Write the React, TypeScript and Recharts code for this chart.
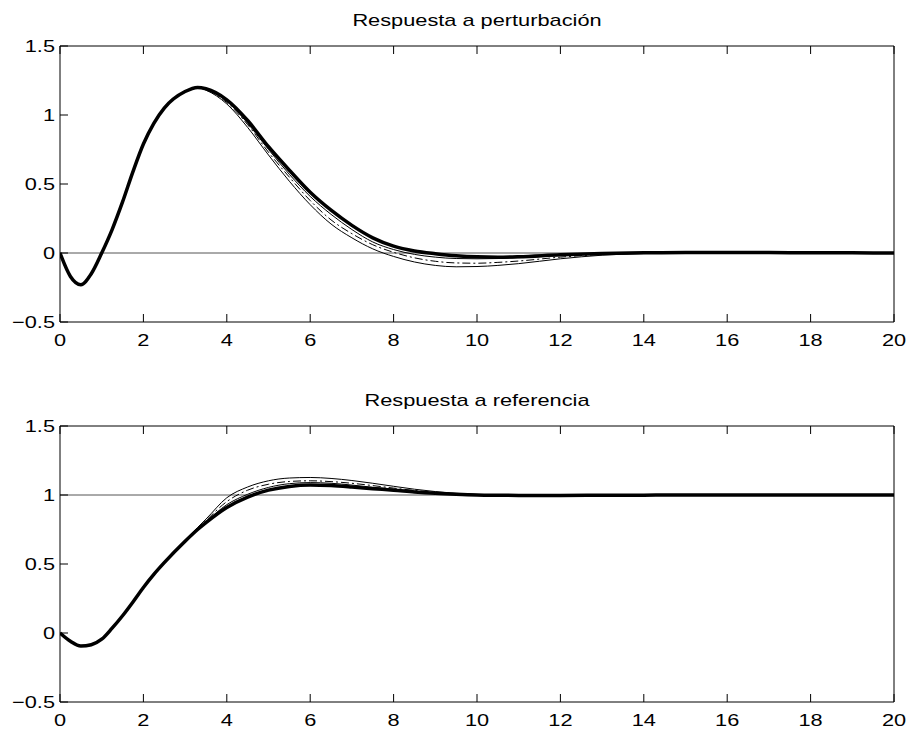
import React from "react";
import { LineChart, Line, XAxis, YAxis, ReferenceLine } from "recharts";

// sample times shared by both panels
const TIME = [
  0, 0.25, 0.5, 0.75, 1, 1.25, 1.5, 1.75, 2, 2.25, 2.5, 3, 3.3, 3.5, 4, 4.5, 5,
  5.5, 6, 6.5, 7, 7.5, 8, 8.5, 9, 9.5, 10, 10.5, 11, 12, 13, 14, 15, 16, 17, 18,
  19, 20,
];

// Respuesta a perturbación
const DIST_THICK = [
  0, -0.17, -0.23, -0.15, 0.0, 0.17, 0.37, 0.59, 0.79, 0.94, 1.05, 1.17, 1.2,
  1.19, 1.11, 0.96, 0.77, 0.6, 0.44, 0.31, 0.2, 0.11, 0.05, 0.015, -0.005,
  -0.02, -0.028, -0.03, -0.027, -0.013, -0.004, 0.001, 0.004, 0.004, 0.003,
  0.002, 0.001, 0,
];
const DIST_THIN_A = [
  0, -0.17, -0.23, -0.15, 0.0, 0.17, 0.37, 0.59, 0.79, 0.94, 1.05, 1.17, 1.2,
  1.19, 1.1, 0.94, 0.75, 0.57, 0.41, 0.28, 0.17, 0.08, 0.025, -0.01, -0.03,
  -0.04, -0.042, -0.04, -0.034, -0.017, -0.006, 0, 0.003, 0.003, 0.002, 0.001,
  0, 0,
];
const DIST_DASHDOT = [
  0, -0.17, -0.23, -0.15, 0.0, 0.17, 0.37, 0.59, 0.79, 0.94, 1.05, 1.17, 1.2,
  1.185, 1.09, 0.93, 0.73, 0.55, 0.38, 0.24, 0.14, 0.06, 0.005, -0.035, -0.06,
  -0.072, -0.074, -0.068, -0.058, -0.03, -0.011, -0.002, 0.002, 0.002, 0.002,
  0.001, 0, 0,
];
const DIST_THIN_B = [
  0, -0.17, -0.23, -0.15, 0.0, 0.17, 0.37, 0.59, 0.79, 0.94, 1.05, 1.17, 1.2,
  1.18, 1.08, 0.91, 0.71, 0.52, 0.35, 0.21, 0.11, 0.03, -0.025, -0.065, -0.09,
  -0.1, -0.098, -0.09, -0.077, -0.042, -0.016, -0.004, 0.001, 0.002, 0.002,
  0.001, 0, 0,
];

// Respuesta a referencia
const REF_THICK = [
  0, -0.06, -0.095, -0.085, -0.045, 0.035, 0.125, 0.225, 0.33, 0.425, 0.51,
  0.665, 0.75, 0.8, 0.91, 0.985, 1.035, 1.062, 1.072, 1.068, 1.058, 1.046,
  1.035, 1.022, 1.012, 1.005, 1.0, 0.998, 0.997, 0.997, 0.998, 0.999, 1, 1, 1,
  1, 1, 1,
];
const REF_THIN_A = [
  0, -0.06, -0.095, -0.085, -0.045, 0.035, 0.125, 0.225, 0.33, 0.425, 0.51,
  0.665, 0.753, 0.806, 0.93, 1.005, 1.055, 1.082, 1.09, 1.085, 1.072, 1.056,
  1.042, 1.028, 1.016, 1.008, 1.002, 0.998, 0.997, 0.997, 0.998, 0.999, 1, 1,
  1, 1, 1, 1,
];
const REF_DASHDOT = [
  0, -0.06, -0.095, -0.085, -0.045, 0.035, 0.125, 0.225, 0.33, 0.425, 0.51,
  0.667, 0.758, 0.815, 0.952, 1.035, 1.078, 1.098, 1.103, 1.097, 1.085, 1.068,
  1.05, 1.033, 1.02, 1.01, 1.003, 0.998, 0.996, 0.996, 0.998, 0.999, 1, 1, 1,
  1, 1, 1,
];
const REF_THIN_B = [
  0, -0.06, -0.095, -0.085, -0.045, 0.035, 0.125, 0.225, 0.33, 0.425, 0.512,
  0.672, 0.765, 0.825, 0.98, 1.058, 1.103, 1.123, 1.127, 1.12, 1.105, 1.085,
  1.063, 1.042, 1.025, 1.012, 1.004, 0.998, 0.995, 0.995, 0.997, 0.999, 1, 1,
  1, 1, 1, 1,
];

const X_TICKS = [0, 2, 4, 6, 8, 10, 12, 14, 16, 18, 20];
const Y_TICKS = [-0.5, 0, 0.5, 1, 1.5];

const FONT = "'Liberation Sans', Arial, Helvetica, sans-serif";
const FONT_SIZE = 17;
const STRETCH = 1.28;
const TICK_LEN = 8;

const fmt = (v: number) => (v < 0 ? "\u2212" + Math.abs(v) : String(v));

const buildRows = (a: number[], b: number[], c: number[], d: number[]) =>
  TIME.map((t, i) => ({ t, thick: a[i], thinA: b[i], dash: c[i], thinB: d[i] }));

// MATLAB style: ticks point inwards, labels stretched a bit wide
const BottomTick = ({ x, y, payload }: any) => (
  <g>
    <line x1={x} x2={x} y1={y} y2={y - TICK_LEN} stroke="#000" />
    <text
      transform={`translate(${x},${y + 24}) scale(${STRETCH},1)`}
      textAnchor="middle"
      fontSize={FONT_SIZE}
      fontFamily={FONT}
      fill="#000"
    >
      {fmt(payload.value)}
    </text>
  </g>
);

const TopTick = ({ x, y }: any) => (
  <line x1={x} x2={x} y1={y} y2={y + TICK_LEN} stroke="#000" />
);

const LeftTick = ({ x, y, payload }: any) => (
  <g>
    <line x1={x} x2={x + TICK_LEN} y1={y} y2={y} stroke="#000" />
    <text
      transform={`translate(${x - 5},${y + 6}) scale(${STRETCH},1)`}
      textAnchor="end"
      fontSize={FONT_SIZE}
      fontFamily={FONT}
      fill="#000"
    >
      {fmt(payload.value)}
    </text>
  </g>
);

const RightTick = ({ x, y }: any) => (
  <line x1={x} x2={x - TICK_LEN} y1={y} y2={y} stroke="#000" />
);

interface PanelProps {
  title: string;
  rows: any[];
  refY: number;
  top: number;
  height: number;
  bottomSpace: number;
}

const Panel = ({ title, rows, refY, top, height, bottomSpace }: PanelProps) => (
  <div style={{ position: "absolute", left: 0, top, width: 908, height }}>
    <LineChart
      width={908}
      height={height}
      data={rows}
      margin={{ top: 0, right: 0, bottom: 0, left: 0 }}
    >
      <XAxis
        dataKey="t"
        type="number"
        domain={[0, 20]}
        ticks={X_TICKS}
        interval={0}
        height={bottomSpace}
        tickSize={0}
        tickMargin={0}
        tickLine={false}
        axisLine={{ stroke: "#000" }}
        tick={BottomTick}
        allowDataOverflow
      />
      <XAxis
        xAxisId="top"
        orientation="top"
        dataKey="t"
        type="number"
        domain={[0, 20]}
        ticks={X_TICKS}
        interval={0}
        height={46}
        tickSize={0}
        tickMargin={0}
        tickLine={false}
        axisLine={{ stroke: "#000" }}
        tick={TopTick}
      />
      <YAxis
        type="number"
        domain={[-0.5, 1.5]}
        ticks={Y_TICKS}
        interval={0}
        width={60}
        tickSize={0}
        tickMargin={0}
        tickLine={false}
        axisLine={{ stroke: "#000" }}
        tick={LeftTick}
        allowDataOverflow
      />
      <YAxis
        yAxisId="right"
        orientation="right"
        type="number"
        domain={[-0.5, 1.5]}
        ticks={Y_TICKS}
        interval={0}
        width={14}
        tickSize={0}
        tickMargin={0}
        tickLine={false}
        axisLine={{ stroke: "#000" }}
        tick={RightTick}
      />
      <ReferenceLine y={refY} stroke="#555" strokeWidth={1} />
      <Line
        type="monotone"
        dataKey="thinB"
        stroke="#000"
        strokeWidth={1}
        dot={false}
        isAnimationActive={false}
      />
      <Line
        type="monotone"
        dataKey="dash"
        stroke="#000"
        strokeWidth={1}
        strokeDasharray="8 3 2 3"
        dot={false}
        isAnimationActive={false}
      />
      <Line
        type="monotone"
        dataKey="thinA"
        stroke="#000"
        strokeWidth={1}
        dot={false}
        isAnimationActive={false}
      />
      <Line
        type="monotone"
        dataKey="thick"
        stroke="#000"
        strokeWidth={3.5}
        dot={false}
        isAnimationActive={false}
      />
    </LineChart>
    <div
      style={{
        position: "absolute",
        left: 60,
        width: 834,
        top: 12,
        textAlign: "center",
        fontFamily: FONT,
        fontSize: FONT_SIZE,
        lineHeight: 1,
        transform: `scaleX(${STRETCH})`,
        color: "#000",
      }}
    >
      {title}
    </div>
  </div>
);

export default function App() {
  const distRows = buildRows(DIST_THICK, DIST_THIN_A, DIST_DASHDOT, DIST_THIN_B);
  const refRows = buildRows(REF_THICK, REF_THIN_A, REF_DASHDOT, REF_THIN_B);
  return (
    <div
      style={{
        position: "absolute",
        left: 0,
        top: 0,
        width: 908,
        height: 731,
        background: "#fff",
        overflow: "hidden",
      }}
    >
      <Panel
        title="Respuesta a perturbación"
        rows={distRows}
        refY={0}
        top={0}
        height={366}
        bottomSpace={44}
      />
      <Panel
        title="Respuesta a referencia"
        rows={refRows}
        refY={1}
        top={380}
        height={351}
        bottomSpace={29}
      />
    </div>
  );
}
